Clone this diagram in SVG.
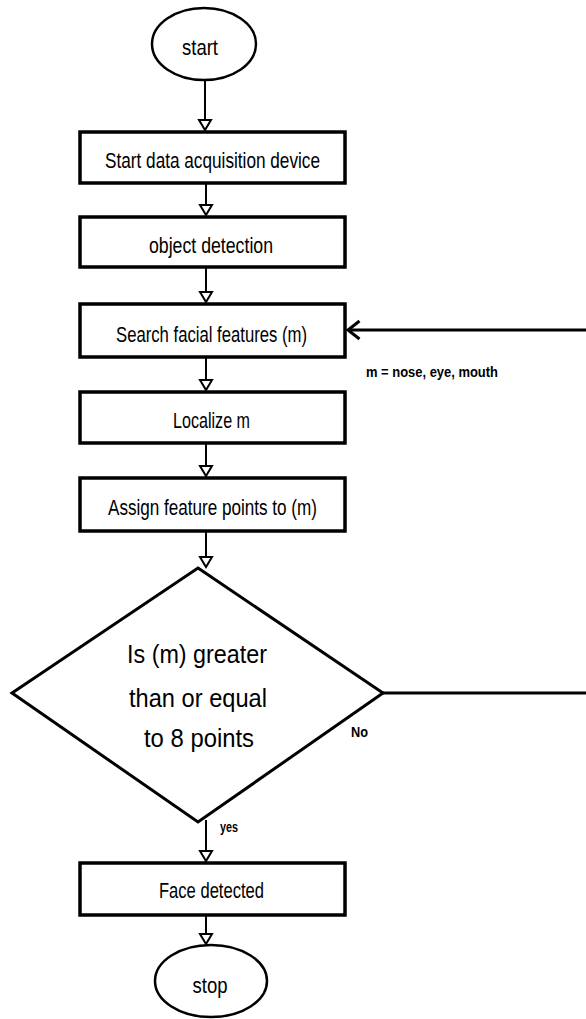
<svg xmlns="http://www.w3.org/2000/svg" width="586" height="1019" viewBox="0 0 586 1019">
<style>
.bg{fill:#fff}
.box{fill:#fff;stroke:#000;stroke-width:3.5}
.term{fill:#fff;stroke:#000;stroke-width:2.5}
.dia{fill:#fff;stroke:#000;stroke-width:3}
.con{fill:none;stroke:#000;stroke-width:2}
.loop{fill:none;stroke:#000;stroke-width:3}
text{font-family:'Liberation Sans Narrow','Liberation Sans',Arial,sans-serif;fill:#000}
.t{font-size:22px}
.d{font-size:26px}
.s{font-size:15px;font-weight:bold}
</style>
<defs>
<marker id="tri" viewBox="0 0 12 14" refX="11" refY="7" markerWidth="12" markerHeight="14" markerUnits="userSpaceOnUse" orient="auto" overflow="visible">
<path d="M1,1 L11,7 L1,13 Z" fill="#fff" stroke="#000" stroke-width="2" stroke-linejoin="miter"/>
</marker>
<marker id="chev" viewBox="0 0 14 20" refX="12.5" refY="10" markerWidth="14" markerHeight="20" markerUnits="userSpaceOnUse" orient="auto" overflow="visible">
<path d="M1,1 L12.5,10 L1,19" fill="none" stroke="#000" stroke-width="3"/>
</marker>
</defs>
<rect class="bg" x="0" y="0" width="586" height="1019"/>
<g id="connectors">
<path class="con" d="M205,80 V130" marker-end="url(#tri)"/>
<path class="con" d="M206,184 V215" marker-end="url(#tri)"/>
<path class="con" d="M206,268 V302" marker-end="url(#tri)"/>
<path class="con" d="M206,358 V390" marker-end="url(#tri)"/>
<path class="con" d="M206,444 V476" marker-end="url(#tri)"/>
<path class="con" d="M206,532 V567" marker-end="url(#tri)"/>
<path class="con" d="M206,820 V861" marker-end="url(#tri)"/>
<path class="con" d="M206,916 V944" marker-end="url(#tri)"/>
<path class="loop" d="M383,693 H589 V330 H348" marker-end="url(#chev)"/>
</g>
<g id="start">
<ellipse class="term" cx="204" cy="44" rx="52" ry="36"/>
<text class="t" x="200" y="55" text-anchor="middle" textLength="36" lengthAdjust="spacingAndGlyphs">start</text>
</g>
<g id="acquire">
<rect class="box" x="80" y="132" width="265" height="51"/>
<text class="t" x="105" y="168" textLength="215" lengthAdjust="spacingAndGlyphs">Start  data acquisition device</text>
</g>
<g id="detect">
<rect class="box" x="80" y="217" width="265" height="50"/>
<text class="t" x="149" y="253" textLength="124" lengthAdjust="spacingAndGlyphs">object detection</text>
</g>
<g id="search">
<rect class="box" x="80" y="304" width="265" height="53"/>
<text class="t" x="116" y="342" textLength="191" lengthAdjust="spacingAndGlyphs">Search facial features (m)</text>
</g>
<g id="localize">
<rect class="box" x="80" y="392" width="265" height="51"/>
<text class="t" x="173" y="428" textLength="77" lengthAdjust="spacingAndGlyphs">Localize m</text>
</g>
<g id="assign">
<rect class="box" x="80" y="478" width="265" height="53"/>
<text class="t" x="108" y="515" textLength="209" lengthAdjust="spacingAndGlyphs">Assign feature points to (m)</text>
</g>
<g id="decision">
<polygon class="dia" points="198,568 383,693 198,822 12,693"/>
<text class="d" x="127" y="663" textLength="140" lengthAdjust="spacingAndGlyphs">Is (m) greater</text>
<text class="d" x="129" y="707" textLength="138" lengthAdjust="spacingAndGlyphs">than or equal</text>
<text class="d" x="144" y="747" textLength="110" lengthAdjust="spacingAndGlyphs">to 8 points</text>
</g>
<g id="face">
<rect class="box" x="80" y="863" width="265" height="52"/>
<text class="t" x="159" y="898" textLength="105" lengthAdjust="spacingAndGlyphs">Face detected</text>
</g>
<g id="stop">
<ellipse class="term" cx="211" cy="981" rx="56" ry="36"/>
<text class="t" x="210" y="993" text-anchor="middle" textLength="35" lengthAdjust="spacingAndGlyphs">stop</text>
</g>
<g id="labels">
<text class="s" x="366" y="377" textLength="132" lengthAdjust="spacingAndGlyphs">m = nose, eye, mouth</text>
<text class="s" x="351" y="737" textLength="17" lengthAdjust="spacingAndGlyphs">No</text>
<text class="s" x="220" y="832" textLength="18" lengthAdjust="spacingAndGlyphs">yes</text>
</g>
</svg>
